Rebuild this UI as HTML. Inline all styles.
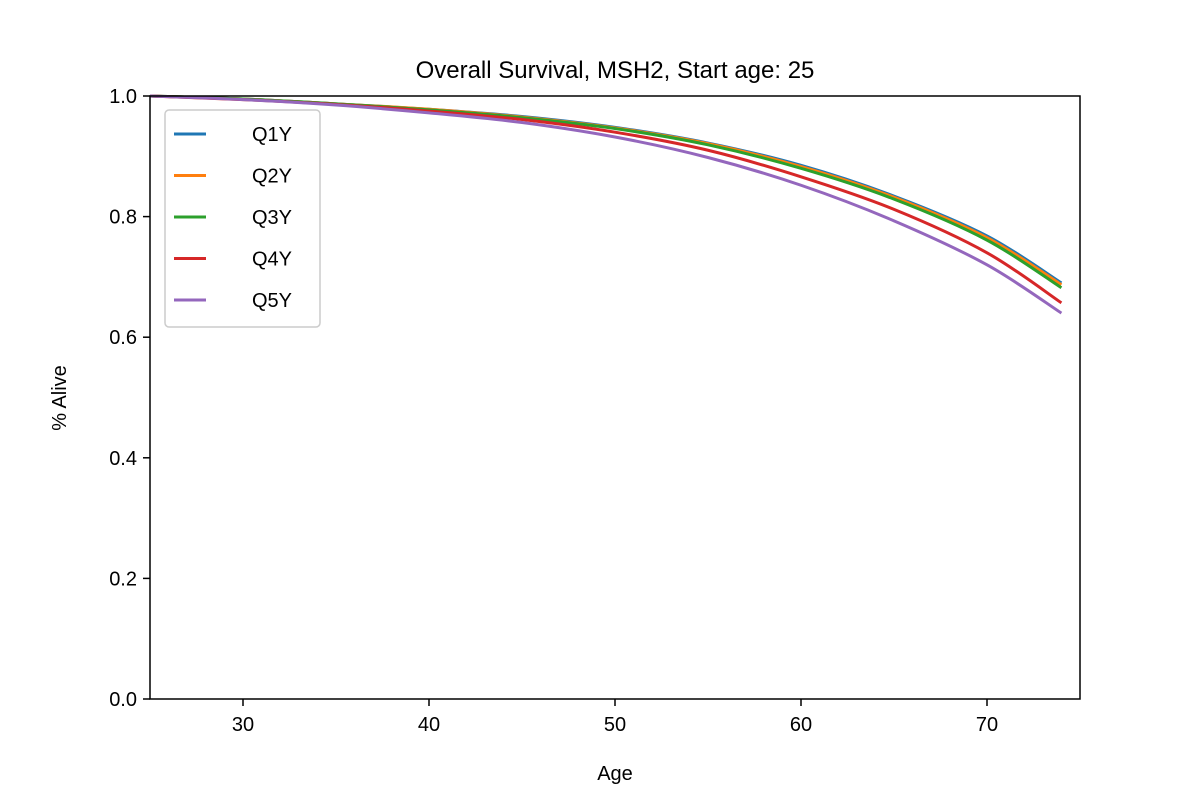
<!DOCTYPE html>
<html><head><meta charset="utf-8"><style>
body{margin:0;background:#fff}
svg text{font-family:"Liberation Sans","DejaVu Sans",sans-serif;fill:#000}
</style></head><body>
<svg id="chart" width="1200" height="800">
<rect width="1200" height="800" fill="#fff"/>
<text x="615" y="78" font-size="24" text-anchor="middle">Overall Survival, MSH2, Start age: 25</text>
<text x="615" y="780" font-size="20" text-anchor="middle">Age</text>
<text transform="translate(66,398) rotate(-90)" font-size="20" text-anchor="middle">% Alive</text>
<g id="ticks"></g>
<g id="lines"></g>
<rect x="150" y="96" width="930" height="603" fill="none" stroke="#000" stroke-width="1.5"/>
<g id="legend">
<rect x="165" y="110" width="155" height="217" rx="4" fill="#fff" fill-opacity="0.8" stroke="#ccc" stroke-width="1.5"/>
</g>
</svg>
<script>
const ages=[25,30,35,40,45,50,55,60,65,70,74];
const seriesNames=["Q1Y","Q2Y","Q3Y","Q4Y","Q5Y"];
const colors=["#1f77b4","#ff7f0e","#2ca02c","#d62728","#9467bd"];
const q1=[1.0,0.995,0.987,0.978,0.966,0.948,0.922,0.885,0.834,0.768,0.690];
const q2=[1.0,0.995,0.987,0.978,0.965,0.947,0.921,0.883,0.832,0.765,0.687];
const q3=[1.0,0.995,0.987,0.977,0.964,0.946,0.919,0.880,0.829,0.761,0.682];
const q4=[1.0,0.994,0.986,0.975,0.961,0.940,0.910,0.866,0.812,0.740,0.657];
const q5=[1.0,0.994,0.985,0.972,0.956,0.932,0.898,0.852,0.793,0.720,0.640];
const xTicks=[30,40,50,60,70];
const yTicks=[0.0,0.2,0.4,0.6,0.8,1.0];
const values=[q1,q2,q3,q4,q5];
const NS="http://www.w3.org/2000/svg";
function xs(v){return 150+(v-25)/50*930;}
function ys(v){return 699-v*603;}
function mk(t,a,p){const e=document.createElementNS(NS,t);for(const k in a)e.setAttribute(k,a[k]);p.appendChild(e);return e;}
function smooth(pts){
 let d='M'+pts[0][0]+','+pts[0][1];
 for(let i=0;i<pts.length-1;i++){
  const p0=pts[Math.max(i-1,0)],p1=pts[i],p2=pts[i+1],p3=pts[Math.min(i+2,pts.length-1)];
  const c1x=p1[0]+(p2[0]-p0[0])/6,c1y=p1[1]+(p2[1]-p0[1])/6;
  const c2x=p2[0]-(p3[0]-p1[0])/6,c2y=p2[1]-(p3[1]-p1[1])/6;
  d+=' C'+c1x+','+c1y+' '+c2x+','+c2y+' '+p2[0]+','+p2[1];
 }
 return d;
}
const tg=document.getElementById('ticks');
xTicks.forEach(t=>{
 const l=mk('line',{x1:xs(t),x2:xs(t),y1:699,y2:706,stroke:'#000','stroke-width':1.5},tg);
 
 
 const tx=mk('text',{x:xs(t),y:731,'font-size':20,'text-anchor':'middle'},tg);tx.textContent=t;
 
 
});
yTicks.forEach(t=>{
 const l=mk('line',{x1:143,x2:150,y1:ys(t),y2:ys(t),stroke:'#000','stroke-width':1.5},tg);
 
 
 const tx=mk('text',{x:137,y:ys(t)+7,'font-size':20,'text-anchor':'end'},tg);tx.textContent=t.toFixed(1);
 
 
});
const lg=document.getElementById('lines');
values.forEach((s,i)=>{
 const pts=s.map((v,j)=>[xs(ages[j]),ys(v)]);
 const p=mk('path',{d:smooth(pts),fill:'none',stroke:colors[i],'stroke-width':3},lg);
 
 
});
const leg=document.getElementById('legend');
seriesNames.forEach((n,i)=>{
 const y=134+i*41.5;
 const l=mk('line',{x1:174,x2:206,y1:y,y2:y,stroke:colors[i],'stroke-width':3},leg);
 
 
 const t=mk('text',{x:252,y:y+7,'font-size':20},leg);t.textContent=n;
 
 
});
</script>
</body></html>
